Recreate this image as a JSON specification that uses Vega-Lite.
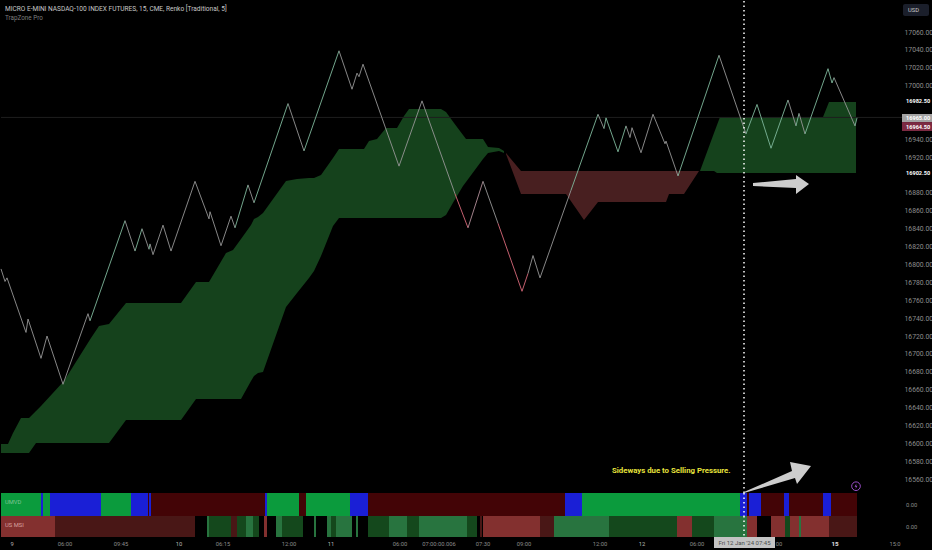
{
"$schema":"https://vega.github.io/schema/vega-lite/v6.json",
"background":"#000000",
"padding":0,
"spacing":0,
"bounds":"flush",
"resolve":{"scale":{"color":"independent"}},
"config":{"view":{"stroke":null},"mark":{"font":"Roboto"},"text":{"font":"Roboto"},"axis":{"labelFont":"Roboto"}},
"vconcat":[
{"width":932,"height":492,
 "encoding":{
  "x":{"field":"x","type":"quantitative","scale":{"domain":[0,932],"nice":false,"zero":false},"axis":null},
  "y":{"field":"p","type":"quantitative","scale":{"domain":[16544.4,17094.7],"nice":false,"zero":false},
   "axis":{"orient":"right","offset":-32,"title":null,"domain":false,"ticks":false,"grid":false,"format":".2f","labelColor":"#8c8c8c","labelFontSize":6.8,"labelPadding":3,
   "values":[17060,17040,17020,17000,16940,16920,16880,16860,16840,16820,16800,16780,16760,16740,16720,16700,16680,16660,16640,16620,16600,16580,16560]}}
 },
 "layer":[
  {"data":{"values":[
   {"x":0,"p":16599.2,"p2":16589.1},{"x":7,"p":16599.2,"p2":16589.1},{"x":12,"p":16611.5,"p2":16589.1},{"x":20,"p":16628.2,"p2":16589.1},{"x":28,"p":16628.2,"p2":16589.1},{"x":35,"p":16636.1,"p2":16600.3},{"x":40,"p":16641.7,"p2":16600.3},{"x":63,"p":16669.6,"p2":16600.3},{"x":90,"p":16717.7,"p2":16600.3},{"x":98,"p":16731.2,"p2":16600.3},{"x":108,"p":16733.4,"p2":16600.3},{"x":125,"p":16756.9,"p2":16626},{"x":180,"p":16756.9,"p2":16626},{"x":195,"p":16780.4,"p2":16649.5},{"x":208,"p":16780.4,"p2":16649.5},{"x":225,"p":16812.8,"p2":16649.5},{"x":232,"p":16816.2,"p2":16649.5},{"x":240,"p":16828.5,"p2":16649.5},{"x":250,"p":16844.1,"p2":16669.6},{"x":253,"p":16850.8,"p2":16675.2},{"x":257,"p":16853.1,"p2":16678.6},{"x":262,"p":16857.6,"p2":16679.7},{"x":285,"p":16893.4,"p2":16752.4},{"x":296,"p":16895.6,"p2":16768.1},{"x":308,"p":16896.7,"p2":16784.8},{"x":313,"p":16896.7,"p2":16792.7},{"x":320,"p":16900.1,"p2":16809.5},{"x":332,"p":16919.1,"p2":16843},{"x":338,"p":16929.1,"p2":16852},{"x":363,"p":16929.1,"p2":16852},{"x":368,"p":16938.1,"p2":16852},{"x":376,"p":16940.3,"p2":16852},{"x":385,"p":16952.6,"p2":16852},{"x":396,"p":16952.6,"p2":16852},{"x":403,"p":16966.1,"p2":16852},{"x":408,"p":16973.9,"p2":16852},{"x":440,"p":16973.9,"p2":16852},{"x":445,"p":16970.5,"p2":16855.3},{"x":453,"p":16958.2,"p2":16871},{"x":462,"p":16944.8,"p2":16887.8},{"x":465,"p":16940.3,"p2":16892.2},{"x":482,"p":16940.3,"p2":16918},{"x":487,"p":16931.4,"p2":16924.7},{"x":498,"p":16930.3,"p2":16926.9},{"x":503,"p":16926.9,"p2":16924.7}
  ]},"mark":{"type":"area","color":"#15421c","opacity":1,"line":false},"encoding":{"y2":{"field":"p2"}}},
  {"data":{"values":[
   {"x":505,"p":16924.7,"p2":16923.6},{"x":520,"p":16904.5,"p2":16878.8},{"x":565,"p":16904.5,"p2":16878.8},{"x":583,"p":16904.5,"p2":16849.7},{"x":597,"p":16904.5,"p2":16869.9},{"x":665,"p":16904.5,"p2":16869.9},{"x":668,"p":16904.5,"p2":16878.8},{"x":683,"p":16904.5,"p2":16878.8},{"x":698,"p":16904.5,"p2":16904.5}
  ]},"mark":{"type":"area","color":"#481f20"},"encoding":{"y2":{"field":"p2"}}},
  {"data":{"values":[
   {"x":699,"p":16904.5,"p2":16904.5},{"x":713,"p":16947,"p2":16904.5},{"x":716,"p":16956,"p2":16902.3},{"x":719,"p":16964.9,"p2":16902.3},{"x":822,"p":16964.9,"p2":16902.3},{"x":828,"p":16981.7,"p2":16902.3},{"x":855,"p":16981.7,"p2":16902.3}
  ]},"mark":{"type":"area","color":"#15421c"},"encoding":{"y2":{"field":"p2"}}},
  {"data":{"values":[{"x":0,"x2":932,"p":16964.5,"p2":16964.5}]},"mark":{"type":"rule","color":"#1e1e1e","strokeWidth":1},"encoding":{"x2":{"field":"x2"},"y2":{"field":"p2"}}},
  {"data":{"values":[
   {"x":0,"p":16795,"x2":4,"p2":16781,"tone":"down"},{"x":4,"p":16781,"x2":6,"p2":16785,"tone":"down"},{"x":6,"p":16785,"x2":25,"p2":16724,"tone":"down"},{"x":25,"p":16724,"x2":27,"p2":16739,"tone":"down"},{"x":27,"p":16739,"x2":40,"p2":16695,"tone":"down"},{"x":40,"p":16695,"x2":46,"p2":16720,"tone":"down"},{"x":46,"p":16720,"x2":62,"p2":16666,"tone":"down"},{"x":62,"p":16666,"x2":87,"p2":16745,"tone":"down"},{"x":87,"p":16745,"x2":89,"p2":16737,"tone":"down"},{"x":89,"p":16737,"x2":124,"p2":16849,"tone":"up"},{"x":124,"p":16849,"x2":134,"p2":16815,"tone":"down"},{"x":134,"p":16815,"x2":141,"p2":16840,"tone":"up"},{"x":141,"p":16840,"x2":148,"p2":16817,"tone":"down"},{"x":148,"p":16817,"x2":149,"p2":16823,"tone":"up"},{"x":149,"p":16823,"x2":152,"p2":16811,"tone":"down"},{"x":152,"p":16811,"x2":162,"p2":16844,"tone":"down"},{"x":162,"p":16844,"x2":170,"p2":16815,"tone":"down"},{"x":170,"p":16815,"x2":194,"p2":16893,"tone":"down"},{"x":194,"p":16893,"x2":208,"p2":16851,"tone":"down"},{"x":208,"p":16851,"x2":209,"p2":16859,"tone":"down"},{"x":209,"p":16859,"x2":220,"p2":16821,"tone":"down"},{"x":220,"p":16821,"x2":230,"p2":16854,"tone":"down"},{"x":230,"p":16854,"x2":234,"p2":16841,"tone":"down"},{"x":234,"p":16841,"x2":247,"p2":16889,"tone":"up"},{"x":247,"p":16889,"x2":253,"p2":16869,"tone":"down"},{"x":253,"p":16869,"x2":287,"p2":16980,"tone":"up"},{"x":287,"p":16980,"x2":303,"p2":16927,"tone":"down"},{"x":303,"p":16927,"x2":338,"p2":17039,"tone":"up"},{"x":338,"p":17039,"x2":351,"p2":16996,"tone":"down"},{"x":351,"p":16996,"x2":356,"p2":17014,"tone":"down"},{"x":356,"p":17014,"x2":358,"p2":17010,"tone":"down"},{"x":358,"p":17010,"x2":362,"p2":17024,"tone":"down"},{"x":362,"p":17024,"x2":398,"p2":16910,"tone":"down"},{"x":398,"p":16910,"x2":421,"p2":16983,"tone":"down"},{"x":421,"p":16983,"x2":454,"p2":16879,"tone":"down"},{"x":454,"p":16879,"x2":467,"p2":16841,"tone":"sell"},{"x":467,"p":16841,"x2":482,"p2":16893,"tone":"fade"},{"x":482,"p":16893,"x2":497,"p2":16846,"tone":"down"},{"x":497,"p":16846,"x2":521,"p2":16770,"tone":"sell"},{"x":521,"p":16770,"x2":527,"p2":16790,"tone":"sell"},{"x":527,"p":16790,"x2":532,"p2":16810,"tone":"down"},{"x":532,"p":16810,"x2":539,"p2":16785,"tone":"down"},{"x":539,"p":16785,"x2":570,"p2":16883,"tone":"down"},{"x":570,"p":16883,"x2":597,"p2":16968,"tone":"up"},{"x":597,"p":16968,"x2":603,"p2":16952,"tone":"down"},{"x":603,"p":16952,"x2":605,"p2":16964,"tone":"up"},{"x":605,"p":16964,"x2":617,"p2":16926,"tone":"up"},{"x":617,"p":16926,"x2":625,"p2":16955,"tone":"up"},{"x":625,"p":16955,"x2":629,"p2":16942,"tone":"down"},{"x":629,"p":16942,"x2":631,"p2":16953,"tone":"down"},{"x":631,"p":16953,"x2":640,"p2":16925,"tone":"down"},{"x":640,"p":16925,"x2":652,"p2":16968,"tone":"down"},{"x":652,"p":16968,"x2":664,"p2":16935,"tone":"down"},{"x":664,"p":16935,"x2":665,"p2":16938,"tone":"down"},{"x":665,"p":16938,"x2":677,"p2":16899,"tone":"down"},{"x":677,"p":16899,"x2":718,"p2":17034,"tone":"up"},{"x":718,"p":17034,"x2":745,"p2":16946,"tone":"down"},{"x":745,"p":16946,"x2":756,"p2":16979,"tone":"up"},{"x":756,"p":16979,"x2":770,"p2":16930,"tone":"up"},{"x":770,"p":16930,"x2":787,"p2":16984,"tone":"up"},{"x":787,"p":16984,"x2":795,"p2":16955,"tone":"down"},{"x":795,"p":16955,"x2":798,"p2":16969,"tone":"up"},{"x":798,"p":16969,"x2":804,"p2":16946,"tone":"down"},{"x":804,"p":16946,"x2":827,"p2":17019,"tone":"up"},{"x":827,"p":17019,"x2":831,"p2":17003,"tone":"up"},{"x":831,"p":17003,"x2":833,"p2":17009,"tone":"up"},{"x":833,"p":17009,"x2":854,"p2":16955,"tone":"down"},{"x":854,"p":16955,"x2":856,"p2":16964,"tone":"up"}
  ]},"mark":{"type":"rule","strokeWidth":0.9},"encoding":{"x2":{"field":"x2"},"y2":{"field":"p2"},"color":{"field":"tone","type":"nominal","legend":null,"scale":{"domain":["up","down","sell","fade"],"range":["#7fb89c","#969696","#d96a7a","#b3909a"]}}}},
  {"data":{"values":[{"x":743,"x2":743,"p":17094.7,"p2":16544.4}]},"mark":{"type":"rule","color":"#ffffff","strokeWidth":1.5,"strokeDash":[1.5,3]},"encoding":{"x2":{"field":"x2"},"y2":{"field":"p2"}}},
  {"data":{"values":[{"x":780,"p":16890}]},"mark":{"type":"point","filled":true,"opacity":1,"color":"#cdcdcd","size":40000,"strokeWidth":0,"shape":"M-.28 -.01L.15 -.05L.15 -.09L.28 0L.15 .10L.15 .04L-.28 .02Z"}},
  {"data":{"values":[{"x":776,"p":16562.2}]},"mark":{"type":"point","filled":true,"opacity":1,"color":"#cdcdcd","size":40000,"strokeWidth":0,"shape":"M-.33 .15L.15 -.06L.13 -.15L.34 -.11L.20 .07L.18 .01L-.33 .16Z"}},
  {"data":{"values":[{"x":855,"p":16552}]},"mark":{"type":"point","filled":false,"opacity":1,"color":"#9a4fc9","size":75,"strokeWidth":1}},
  {"data":{"values":[{"x":855,"p":16552}]},"mark":{"type":"point","filled":true,"opacity":1,"color":"#9a4fc9","size":256,"strokeWidth":0,"shape":"M.05 -.35L-.18 .06L0 .06L-.05 .35L.18 -.06L0 -.06Z"}},
  {"data":{"values":[{"x":902,"x2":928,"p":17091.3,"p2":17077.9}]},"mark":{"type":"rect","color":"#1b1f2b","cornerRadius":2},"encoding":{"x2":{"field":"x2"},"y2":{"field":"p2"}}},
  {"data":{"values":[{"x":901,"x2":931,"p":16968.3,"p2":16959.3}]},"mark":{"type":"rect","color":"#a3a3a3"},"encoding":{"x2":{"field":"x2"},"y2":{"field":"p2"}}},
  {"data":{"values":[{"x":901,"x2":931,"p":16959.3,"p2":16949.3}]},"mark":{"type":"rect","color":"#7c2a42"},"encoding":{"x2":{"field":"x2"},"y2":{"field":"p2"}}},
  {"data":{"values":[{"x":905,"p":16982.5,"t":"16982.50"},{"x":905,"p":16902.5,"t":"16902.50"},{"x":905,"p":16963.8,"t":"16965.00"},{"x":905,"p":16954.3,"t":"16964.50"}]},"mark":{"type":"text","font":"Roboto","align":"left","baseline":"middle","color":"#ffffff","fontSize":5.6,"fontWeight":"bold"},"encoding":{"text":{"field":"t"}}},
  {"data":{"values":[{"x":912.5,"p":17084.6,"t":"USD"}]},"mark":{"type":"text","font":"Roboto","align":"center","baseline":"middle","color":"#c9c9c9","fontSize":5.8},"encoding":{"text":{"field":"t"}}},
  {"data":{"values":[{"x":4,"p":17085.7,"t":"MICRO E-MINI NASDAQ-100 INDEX FUTURES, 15, CME, Renko [Traditional, 5]"}]},"mark":{"type":"text","font":"Roboto","align":"left","baseline":"middle","color":"#c8c8c8","fontSize":6.55},"encoding":{"text":{"field":"t"}}},
  {"data":{"values":[{"x":4,"p":17075.7,"t":"TrapZone Pro"}]},"mark":{"type":"text","font":"Roboto","align":"left","baseline":"middle","color":"#7d7d7d","fontSize":6.3},"encoding":{"text":{"field":"t"}}},
  {"data":{"values":[{"x":611,"p":16569,"t":"Sideways due to Selling Pressure."}]},"mark":{"type":"text","font":"Roboto","align":"left","baseline":"middle","color":"#e6e23c","fontSize":7.8,"fontWeight":"bold"},"encoding":{"text":{"field":"t"}}}
 ]},
{"width":932,"height":23,
 "encoding":{"x":{"field":"x","type":"quantitative","scale":{"domain":[0,932],"nice":false,"zero":false},"axis":null}},
 "layer":[
  {"data":{"values":[
   {"x":0,"x2":40,"s":"green"},{"x":40,"x2":42,"s":"blue"},{"x":42,"x2":49,"s":"green"},{"x":49,"x2":100,"s":"blue"},{"x":100,"x2":130,"s":"green"},{"x":130,"x2":147,"s":"blue"},{"x":147,"x2":148,"s":"maroon"},{"x":148,"x2":150,"s":"blue"},{"x":150,"x2":264,"s":"maroon"},{"x":264,"x2":266,"s":"blue"},{"x":266,"x2":298,"s":"green"},{"x":298,"x2":305,"s":"maroon"},{"x":305,"x2":349,"s":"green"},{"x":349,"x2":367,"s":"blue"},{"x":367,"x2":564,"s":"maroon"},{"x":564,"x2":581,"s":"blue"},{"x":581,"x2":739,"s":"green"},{"x":739,"x2":746,"s":"blue"},{"x":746,"x2":748,"s":"maroon"},{"x":748,"x2":760,"s":"blue"},{"x":760,"x2":783,"s":"maroon"},{"x":783,"x2":788,"s":"blue"},{"x":788,"x2":822,"s":"maroon"},{"x":822,"x2":830,"s":"blue"},{"x":830,"x2":856,"s":"maroon"}
  ]},"mark":{"type":"rect"},"encoding":{"x2":{"field":"x2"},"color":{"field":"s","type":"nominal","legend":null,"scale":{"domain":["green","blue","maroon"],"range":["#0b9b3d","#1a1fd6","#430406"]}}}},
  {"data":{"values":[{"x":743}]},"mark":{"type":"rule","color":"#ffffff","strokeWidth":1.5,"strokeDash":[1.5,3]}},
  {"data":{"values":[{"x":4,"t":"UMVD"}]},"mark":{"type":"text","font":"Roboto","align":"left","baseline":"middle","dy":-3,"color":"#7fc596","fontSize":5.8},"encoding":{"text":{"field":"t"}}},
  {"data":{"values":[{"x":905,"t":"0.00"}]},"mark":{"type":"text","font":"Roboto","align":"left","baseline":"middle","color":"#8c8c8c","fontSize":5.8},"encoding":{"text":{"field":"t"}}}
 ]},
{"width":932,"height":21,
 "encoding":{"x":{"field":"x","type":"quantitative","scale":{"domain":[0,932],"nice":false,"zero":false},"axis":null}},
 "layer":[
  {"data":{"values":[
   {"x":0,"x2":54,"s":"red"},{"x":54,"x2":194,"s":"maroon"},{"x":206,"x2":208,"s":"mid"},{"x":208,"x2":230,"s":"dark"},{"x":230,"x2":236,"s":"maroon"},{"x":236,"x2":245,"s":"dark"},{"x":245,"x2":252,"s":"mid"},{"x":252,"x2":258,"s":"dark"},{"x":263,"x2":266,"s":"red"},{"x":275,"x2":281,"s":"mid"},{"x":281,"x2":302,"s":"dark"},{"x":313,"x2":315,"s":"mid"},{"x":326,"x2":330,"s":"mid"},{"x":330,"x2":335,"s":"dark"},{"x":335,"x2":351,"s":"mid"},{"x":355,"x2":357,"s":"mid"},{"x":367,"x2":388,"s":"dark"},{"x":388,"x2":406,"s":"mid"},{"x":406,"x2":418,"s":"dark"},{"x":418,"x2":466,"s":"mid"},{"x":466,"x2":476,"s":"dark"},{"x":479,"x2":481,"s":"maroon"},{"x":482,"x2":539,"s":"red"},{"x":539,"x2":553,"s":"maroon"},{"x":553,"x2":608,"s":"mid"},{"x":608,"x2":613,"s":"dark"},{"x":613,"x2":676,"s":"dark"},{"x":676,"x2":691,"s":"red"},{"x":691,"x2":713,"s":"dark"},{"x":713,"x2":746,"s":"mid"},{"x":746,"x2":756,"s":"red"},{"x":770,"x2":784,"s":"red"},{"x":784,"x2":789,"s":"dark"},{"x":789,"x2":798,"s":"red"},{"x":798,"x2":800,"s":"mid"},{"x":800,"x2":828,"s":"red"},{"x":828,"x2":856,"s":"maroon"}
  ]},"mark":{"type":"rect"},"encoding":{"x2":{"field":"x2"},"color":{"field":"s","type":"nominal","legend":null,"scale":{"domain":["red","maroon","mid","dark"],"range":["#83302f","#491716","#28743f","#14481c"]}}}},
  {"data":{"values":[{"x":743}]},"mark":{"type":"rule","color":"#ffffff","strokeWidth":1.5,"strokeDash":[1.5,3]}},
  {"data":{"values":[{"x":4,"t":"US MSI"}]},"mark":{"type":"text","font":"Roboto","align":"left","baseline":"middle","dy":-2,"color":"#d8a0a0","fontSize":5.8},"encoding":{"text":{"field":"t"}}},
  {"data":{"values":[{"x":905,"t":"0.00"}]},"mark":{"type":"text","font":"Roboto","align":"left","baseline":"middle","color":"#8c8c8c","fontSize":5.8},"encoding":{"text":{"field":"t"}}}
 ]},
{"width":932,"height":14,
 "encoding":{"x":{"field":"x","type":"quantitative","scale":{"domain":[0,932],"nice":false,"zero":false},"axis":null},
  "y":{"field":"v","type":"quantitative","scale":{"domain":[14,0],"nice":false,"zero":false},"axis":null}},
 "layer":[
  {"data":{"values":[{"x":64,"v":6.5,"t":"06:00"},{"x":120,"v":6.5,"t":"09:45"},{"x":222,"v":6.5,"t":"06:15"},{"x":288,"v":6.5,"t":"12:00"},{"x":399,"v":6.5,"t":"06:00"},{"x":438,"v":6.5,"t":"07:00:00.006"},{"x":482,"v":6.5,"t":"07:30"},{"x":523,"v":6.5,"t":"09:00"},{"x":599,"v":6.5,"t":"12:00"},{"x":696,"v":6.5,"t":"06:00"},{"x":778,"v":6.5,"t":"00"},{"x":894,"v":6.5,"t":"15:0"}]},
   "mark":{"type":"text","font":"Roboto","align":"center","baseline":"middle","color":"#8c8c8c","fontSize":5.8},"encoding":{"text":{"field":"t"}}},
  {"data":{"values":[{"x":11,"v":6.5,"t":"9"},{"x":178,"v":6.5,"t":"10"},{"x":330,"v":6.5,"t":"11"},{"x":641,"v":6.5,"t":"12"}]},
   "mark":{"type":"text","font":"Roboto","align":"center","baseline":"middle","color":"#b5b5b5","fontSize":5.8},"encoding":{"text":{"field":"t"}}},
  {"data":{"values":[{"x":834,"v":6.5,"t":"15"}]},
   "mark":{"type":"text","font":"Roboto","align":"center","baseline":"middle","color":"#e0e0e0","fontSize":6.2,"fontWeight":"bold"},"encoding":{"text":{"field":"t"}}},
  {"data":{"values":[{"x":713,"x2":774,"v":0,"v2":11}]},"mark":{"type":"rect","color":"#c4c4c4"},"encoding":{"x2":{"field":"x2"},"y2":{"field":"v2"}}},
  {"data":{"values":[{"x":743.5,"v":6,"t":"Fri 12 Jan '24   07:45"}]},
   "mark":{"type":"text","font":"Roboto","align":"center","baseline":"middle","color":"#4d4d4d","fontSize":6},"encoding":{"text":{"field":"t"}}}
 ]}
]
}
